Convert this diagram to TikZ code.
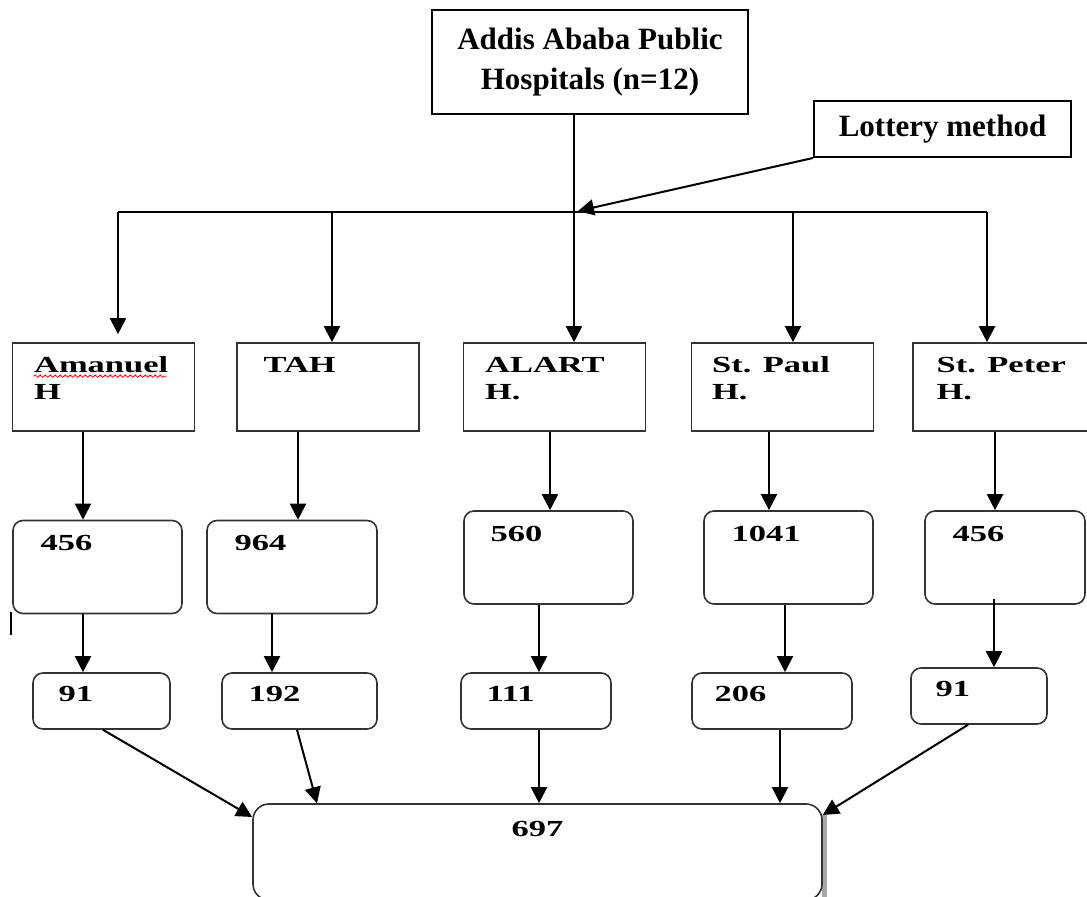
\documentclass[tikz,border=0pt]{standalone}
\usepackage{fontspec}
\setmainfont{Liberation Serif}
\newfontfamily\widefont[FakeStretch=1.5]{Liberation Serif}
\usetikzlibrary{arrows.meta}
\usetikzlibrary{calc,decorations.pathmorphing}

\tikzset{
  hbox/.style={draw=black!80, line width=0.8pt, inner sep=0pt},
  nbox/.style={hbox, rounded corners=5pt},
  bigtext/.style={font=\bfseries\fontsize{15.5}{20}\selectfont, align=center},
  htext/.style={font=\widefont\bfseries\fontsize{11.5}{13.5}\selectfont, anchor=base west, align=left, inner sep=0pt},
  line/.style={line width=1pt},
  arr/.style={line width=1pt, -{Triangle[length=8pt,width=8pt]}},
}

\begin{document}
\begin{tikzpicture}[x=0.5pt,y=-0.5pt]
    \clip (0,0) rectangle (1087,897);

    \node[hbox, draw=black, line width=1pt, minimum width=158pt, minimum height=52pt, bigtext] (aaph) at (590,62) {Addis Ababa Public\\Hospitals (n=12)};
    \node[hbox, draw=black, line width=1pt, minimum width=128.5pt, minimum height=28pt, bigtext] (lottery) at (942.5,129) {Lottery method};

    % hospitals (base of a two-line text is its last line)
    \foreach \n/\x in {amanuel/103.5, tah/328, alart/554.5, stpaul/782.5, stpeter/1004}
        \node[hbox, minimum width=91pt, minimum height=44pt] (\n) at (\x,387) {};

    \node[htext] (amanuel-t) at ($(amanuel.north west)+(22,57)$) {Amanuel\\H};
    \node[htext] (tah-t) at ($(tah.north west)+(27,30)$) {TAH};
    \node[htext] (alart-t) at ($(alart.north west)+(22,57)$) {ALART\\H.};
    \node[htext] (stpaul-t) at ($(stpaul.north west)+(21,57)$) {St. Paul\\H.};
    \node[htext] (stpeter-t) at ($(stpeter.north west)+(24,57)$) {St. Peter\\H.};
    \draw[red, line width=0.4pt, decorate, decoration={snake, amplitude=0.6pt, segment length=2.5pt}]
        ($(amanuel.north west)+(22,34)$) -- ++(133,0);

    % population per hospital
    \foreach \n/\x/\y/\w in {n456a/97.5/567/84.5, n964/292/567/85, n560/548.5/557.5/84.5, n1041/788.5/557.5/84.5, n456b/1005/557.5/80}
        \node[nbox, minimum width=\w pt, minimum height=46.5pt] (\n) at (\x,\y) {};
    \foreach \n/\t/\dx in {n456a/456/28, n964/964/28, n560/560/27, n1041/1041/28, n456b/456/28}
        \node[htext] (\n-t) at ($(\n.north west)+(\dx,31)$) {\t};

    % sample per hospital
    \foreach \n/\x/\y/\w in {s91a/101.5/701/68.5, s192/299.5/701/77.5, s111/536/701/75, s206/772/701/80, s91b/979/696/68}
        \node[nbox, minimum width=\w pt, minimum height=28pt] (\n) at (\x,\y) {};
    \foreach \n/\t/\dx in {s91a/91/26, s192/192/27, s111/111/26, s206/206/23, s91b/91/25}
        \node[htext] (\n-t) at ($(\n.north west)+(\dx,29)$) {\t};

    % total
    \draw[gray!70, line width=2.5pt] (824.5,815) -- (824.5,897);
    \node[nbox, rounded corners=8pt, fill=white, minimum width=284.5pt, minimum height=48pt] (total) at (537.5,852) {};
    \node[htext, anchor=base] (total-t) at ($(total.north)+(0,33)$) {697};

    \coordinate (busL) at (118,212);
    \coordinate (busR) at (987,212);
    \coordinate (busM) at (574,212);
    \coordinate (pick) at (578,211);

    \draw[line] (busL) -- (busR);
    \draw[line] (aaph.south -| busM) -- (busM);
    \draw[arr] (lottery.south west) -- (pick);

    \foreach \n/\x/\s in {amanuel/118/4pt, tah/332/0pt, alart/574/0pt, stpaul/793/0pt, stpeter/987/0pt}
        \draw[arr, shorten >=\s] (\x,212) -- (\n.north -| \x,0);

    \foreach \a/\b/\x in {amanuel/n456a/83, tah/n964/298, alart/n560/550, stpaul/n1041/769, stpeter/n456b/995}
        \draw[arr] (\a.south -| \x,0) -- (\b.north -| \x,0);

    \foreach \a/\b/\x in {n456a/s91a/83, n964/s192/272, n560/s111/539, n1041/s206/785}
        \draw[arr] (\a.south -| \x,0) -- (\b.north -| \x,0);
    \draw[arr] ($(n456b.south -| 994,0)+(0,-6)$) -- (s91b.north -| 994,0);

    \draw[arr] (s91a.south -| 103,0) -- (total.west |- 0,817);
    \draw[arr] (s192.south -| 297,0) -- (total.north -| 317,0);
    \draw[arr] (s111.south -| 539,0) -- (total.north -| 539,0);
    \draw[arr] (s206.south -| 780,0) -- (total.north -| 780,0);
    \draw[arr] (s91b.south -| 968,0) -- (total.east |- 0,815);

    \draw[line width=0.7pt] (11,612) -- (11,635);
\end{tikzpicture}
\end{document}
